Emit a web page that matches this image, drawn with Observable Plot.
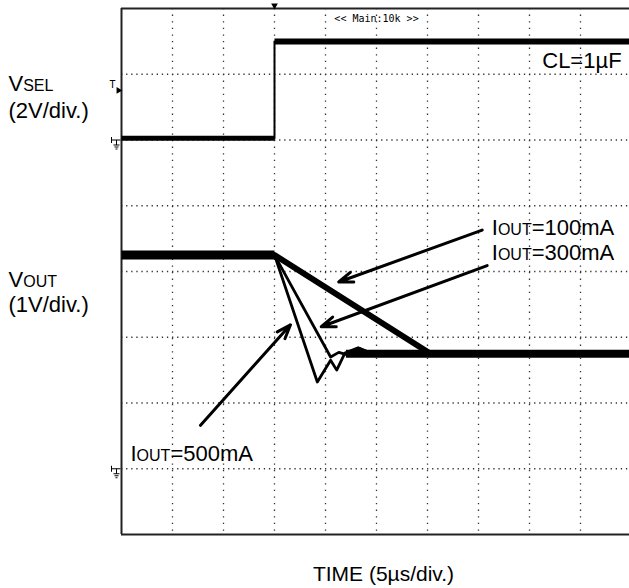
<!DOCTYPE html>
<html><head><meta charset="utf-8">
<script src="https://cdn.jsdelivr.net/npm/d3@7"></script>
<script src="https://cdn.jsdelivr.net/npm/@observablehq/plot@0.6"></script>
<style>
html,body{margin:0;padding:0;background:#fff;overflow:hidden;}
#chart svg{display:block;}
</style></head><body><div id="chart"></div>
<script>
// ---- grid (oscilloscope divisions) ----
const timeGrid = [5, 10, 15, 20, 25, 30, 35, 40, 45];   // µs (5 µs/div)
const levelGrid = [1, 2, 3, 4, 5, 6, 7];                 // divisions

// ---- channel settings ----
const vselGroundDiv = 6, vselVoltsPerDiv = 2;
const voutGroundDiv = 1, voutVoltsPerDiv = 1;
const triggerLevel = 1.57; // V on VSEL channel

// ---- VSEL trace (V) ----
const vselLowT = [0, 15];      const vselLowV = [0.05, 0.05];
const vselEdgeT = [15, 15];    const vselEdgeV = [0.05, 3.0];
const vselHighT = [15, 50];    const vselHighV = [3.0, 3.0];

// ---- VOUT traces (V) ----
const voutPreT = [0, 15];      const voutPreV = [3.25, 3.25];
const voutPostT = [22, 50];    const voutPostV = [1.75, 1.75];
const i100T = [15, 30.3];      const i100V = [3.25, 1.75];
const i300T = [15, 20.5, 21.3, 22.0, 23.3, 24.5, 26];
const i300V = [3.25, 1.70, 1.77, 1.74, 1.83, 1.76, 1.75];
const i500T = [15, 19.2, 20.5, 21.1, 21.9, 23.2, 24.5];
const i500V = [3.25, 1.32, 1.65, 1.50, 1.76, 1.84, 1.75];

// ---- arrows (time µs, VOUT volts) ----
const arrowFromT = [35.36, 35.85, 7.75];
const arrowFromV = [3.63, 3.09, 0.66];
const arrowToT = [21.3, 19.58, 16.57];
const arrowToV = [2.84, 2.16, 2.19];

// ---- current labels (time µs, VOUT volts at baseline) ----
const currentLabels = ["IOUT=100mA", "IOUT=300mA", "IOUT=500mA"];
const currentLabelT = [36.3, 36.3, 0.88];
const currentLabelV = [3.56, 3.17, 0.115];

// ---- channel labels (division at baseline) ----
const channelLabels = ["VSEL", "(2V/div.)", "VOUT", "(1V/div.)"];
const channelLabelDiv = [6.75, 6.33, 3.76, 3.39];

const capText = "CL=1µF";
const capT = 41.25, capDiv = 7.10;
const xLabel = "TIME (5µs/div.)";
const topText = "<< Main:10k >>";

const vsel = v => vselGroundDiv + v / vselVoltsPerDiv;
const vout = v => voutGroundDiv + v / voutVoltsPerDiv;
const rows = (T, V, f) => T.map((t, i) => ({t, y: f(V[i])}));

const arrows = arrowFromT.map((t, i) => ({x1: t, y1: vout(arrowFromV[i]), x2: arrowToT[i], y2: vout(arrowToV[i])}));
const curLab = currentLabels.map((s, i) => ({s, t: currentLabelT[i], y: vout(currentLabelV[i])}));
const chLab = channelLabels.map((s, i) => ({s, y: channelLabelDiv[i]}));

const groundSymbol = {
  draw(ctx) {
    ctx.moveTo(-5, 0); ctx.lineTo(4, 0);
    ctx.moveTo(-5, -3); ctx.lineTo(-5, 3);
    ctx.moveTo(0, 0); ctx.lineTo(0, 5);
    ctx.moveTo(-3, 5); ctx.lineTo(3, 5);
    ctx.moveTo(-2, 7); ctx.lineTo(2, 7);
    ctx.moveTo(-1, 9); ctx.lineTo(1, 9);
  }
};

const font = "'Liberation Sans', Arial, Helvetica, sans-serif";

const chart = Plot.plot({
  width: 629, height: 588,
  marginLeft: 121, marginRight: -2, marginTop: 8, marginBottom: 54,
  x: {domain: [0, 50], axis: null},
  y: {domain: [0, 8], axis: null},
  style: {fontFamily: font, background: "#fff", overflow: "visible"},
  marks: [
    Plot.ruleX(timeGrid, {stroke: "#333", strokeWidth: 1.3, strokeDasharray: "1.3,5.3"}),
    Plot.ruleY(levelGrid, {stroke: "#333", strokeWidth: 1.3, strokeDasharray: "1.3,3.8"}),
    Plot.ruleX([0], {stroke: "#222", strokeWidth: 2}),
    Plot.ruleY([0, 8], {stroke: "#222", strokeWidth: 2}),
    // VSEL
    Plot.line(rows(vselLowT, vselLowV, vsel), {x: "t", y: "y", stroke: "black", strokeWidth: 5, strokeLinecap: "butt"}),
    Plot.line(rows(vselHighT, vselHighV, vsel), {x: "t", y: "y", stroke: "black", strokeWidth: 6, strokeLinecap: "butt"}),
    Plot.line(rows(vselEdgeT, vselEdgeV, vsel), {x: "t", y: "y", stroke: "black", strokeWidth: 2}),
    // VOUT
    Plot.line(rows(voutPreT, voutPreV, vout), {x: "t", y: "y", stroke: "black", strokeWidth: 9, strokeLinecap: "butt"}),
    Plot.line(rows(voutPostT, voutPostV, vout), {x: "t", y: "y", stroke: "black", strokeWidth: 8, strokeLinecap: "butt"}),
    Plot.line(rows(i100T, i100V, vout), {x: "t", y: "y", stroke: "black", strokeWidth: 6}),
    Plot.line(rows(i300T, i300V, vout), {x: "t", y: "y", stroke: "black", strokeWidth: 2.8}),
    Plot.line(rows(i500T, i500V, vout), {x: "t", y: "y", stroke: "black", strokeWidth: 2.8}),
    // arrows
    Plot.arrow(arrows, {x1: "x1", y1: "y1", x2: "x2", y2: "y2", stroke: "black", strokeWidth: 3, headLength: 7.5, headAngle: 40, bend: 0, inset: 0}),
    // labels
    Plot.text(curLab, {x: "t", y: "y", text: "s", textAnchor: "start", lineAnchor: "bottom", fontSize: 22, fill: "black"}),
    Plot.text([capText], {x: capT, y: capDiv, text: d => d, textAnchor: "start", lineAnchor: "bottom", fontSize: 22, fill: "black"}),
    Plot.text(chLab, {x: 0, y: "y", text: "s", dx: -113, textAnchor: "start", lineAnchor: "bottom", fontSize: 22, fill: "black"}),
    Plot.text([xLabel], {x: 25, y: 0, text: d => d, dx: 7, dy: 46, textAnchor: "middle", lineAnchor: "bottom", fontSize: 21, fill: "black"}),
    Plot.text([topText], {x: 25, y: 8, text: d => d, dy: 10, textAnchor: "middle", lineAnchor: "middle", fontSize: 10, fontFamily: "'DejaVu Sans Mono', monospace", fill: "black"}),
    // trigger position marker (top) and trigger level marker (left)
    Plot.dot([15], {x: d => d, y: 8, symbol: "triangle", r: 2.5, rotate: 180, dy: -3, fill: "black"}),
    Plot.text(["T"], {x: 0, y: vsel(triggerLevel), text: d => d, dx: -9, textAnchor: "middle", lineAnchor: "bottom", fontSize: 10, fontFamily: "'DejaVu Sans Mono', monospace", fill: "black"}),
    Plot.dot([triggerLevel], {x: 0, y: d => vsel(d), symbol: "triangle", r: 2.5, rotate: 90, dx: -3, dy: 2, fill: "black"}),
    // ground markers
    Plot.dot([vselGroundDiv, voutGroundDiv], {x: 0, y: d => d, symbol: groundSymbol, dx: -5, stroke: "black", strokeWidth: 1, fill: "none"})
  ]
});

// subscripts (SEL / OUT) in smaller type on the same baseline
chart.querySelectorAll("text").forEach(el => {
  const m = /^([VI])(SEL|OUT)(.*)$/.exec(el.textContent);
  if (!m) return;
  el.textContent = "";
  el.appendChild(document.createTextNode(m[1]));
  const ts = document.createElementNS("http://www.w3.org/2000/svg", "tspan");
  ts.setAttribute("font-size", "16");
  ts.textContent = m[2];
  el.appendChild(ts);
  if (m[3]) el.appendChild(document.createTextNode(m[3]));
});

document.getElementById("chart").appendChild(chart);
</script>
</body></html>
